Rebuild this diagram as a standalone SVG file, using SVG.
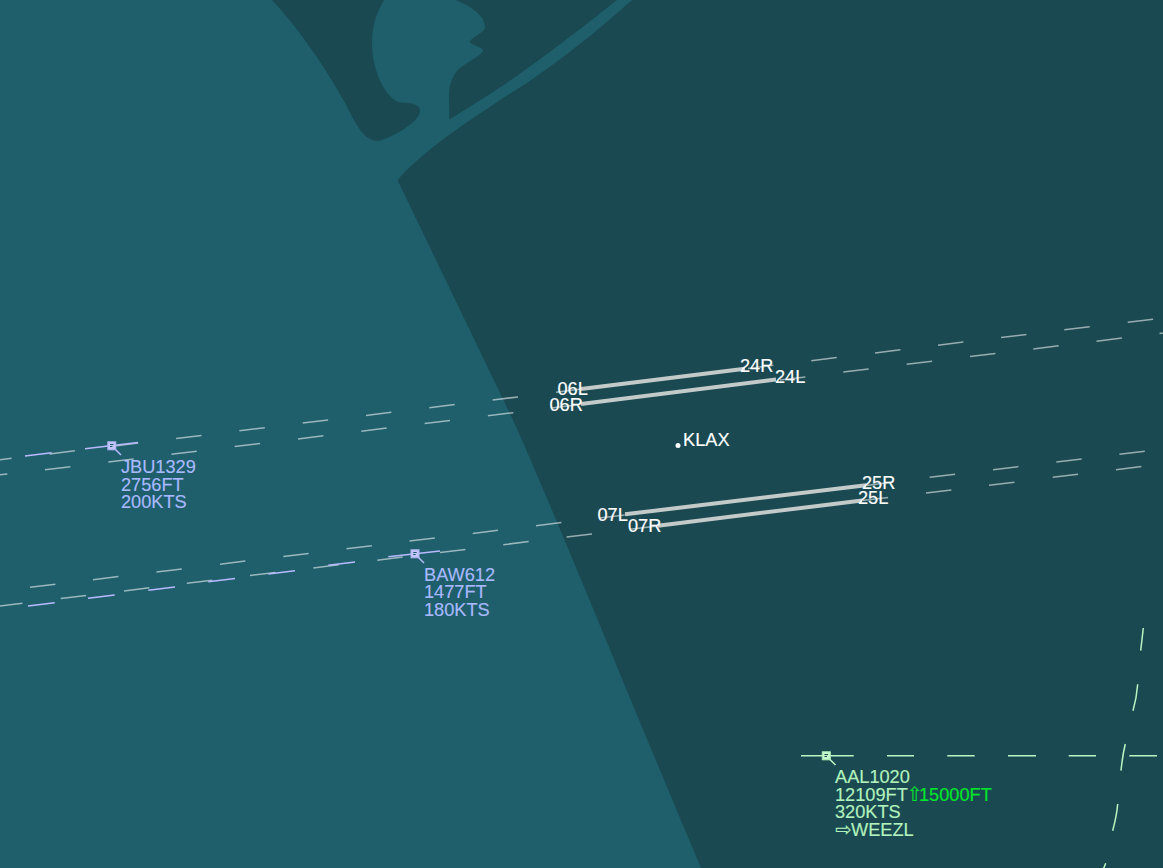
<svg xmlns="http://www.w3.org/2000/svg" width="1163" height="868" viewBox="0 0 1163 868">
<style>
text{font-family:"Liberation Sans",Arial,"DejaVu Sans",sans-serif;font-size:18.200px;stroke-width:.15px}
.rw{stroke:#c3caca;stroke-width:4;fill:none}
.ext{stroke:#fff;stroke-opacity:.55;stroke-width:1.5;fill:none}
.rl{fill:#fff;stroke:#fff}
.v{stroke:#b9b9ff;stroke-width:1.5;fill:none}
.g{stroke:#b9f5c0;stroke-width:1.5;fill:none}
.vt{fill:#a9b9ff;stroke:#a9b9ff}
.gt{fill:#b2f2bc;stroke:#b2f2bc}
.gc{fill:#00e62a;stroke:#00e62a}
.ar{font-family:"DejaVu Sans",sans-serif;font-size:19.500px}
.mk{stroke-width:1;fill:none}
</style>
<rect id="water" width="1163" height="868" fill="#1a4951"/>
<path id="land" fill="#1e5f6b" d="M0,0L272,0C300,30 327,70 345,103C355,122 363,141 378,141C390,139 420,122 420,111C420,103 408,103 400,102.500C385,98 372,70 372,43C372,25 377,12 384,0L455,0C470,5 485,16 485,27C485,33 470,38 470,42C470,45 483,47 483,50C483,55 470,60 460,68C452,75 449,85 449,97L449.300,119.500C466,109 483,99 500,87.300C527,70 590,22 616.700,0L632.300,0C600,28 555,67 500,100C487,109 473,118 460,127C440,141 415,160 397.500,180L513,420C560,525 630,700 701,868L0,868Z"/>
<g id="connectors">
<path id="ext-a" class="ext" d="M-13.800,461.400l25.400,-3.100M49.500,453.900l25.400,-3.100M112.800,446.200l25.400,-3.100M176.100,438.500l25.400,-3.100M239.400,430.800l25.400,-3.100M302.700,423.100l25.400,-3.100M366,415.400l25.400,-3.100M429.300,407.700l25.400,-3.100M492.600,400l25.400,-3.100M556,392.200l25,-3.100M748,368.400l25.400,-3.100M811.300,360.700l25.400,-3.100M875,352.900l25.400,-3.100M938,345.200l25.400,-3.100M1001,337.500l25.400,-3.100M1064.300,329.800l25.400,-3.100M1127.700,322.300l25.400,-3.100"/>
<path id="ext-b" class="ext" d="M-18,477l25.400,-3.100M45,469.800l25.400,-3.100M108.300,462l25.400,-3.100M171.400,454.300l25.400,-3.100M234.700,446.600l25.400,-3.100M298,438.900l25.400,-3.100M361.300,431.200l25.400,-3.100M424.600,423.500l25.400,-3.100M487.900,415.800l25.400,-3.100M551.200,408l25.400,-3.100M780,380l25.400,-3.100M843.300,372.100l25.400,-3.100M906.700,364.300l25.400,-3.100M970,356.600l25.400,-3.100M1033.300,348.900l25.400,-3.100M1096.500,341.200l25.400,-3.100M1159.500,333.500l25.400,-3.100"/>
<path id="ext-c" class="ext" d="M30,587.300l25.400,-3.100M93,579.700l25.400,-3.100M156.400,572l25.400,-3.100M220,564.200l25.400,-3.100M283.300,556.500l25.400,-3.100M346.500,548.800l25.400,-3.100M409.500,541.100l25.400,-3.100M472.700,533.400l25.400,-3.100M536,525.700l25.400,-3.100M599.300,518l25.400,-3.100M866.400,485.400l25.400,-3.100M929.700,477.300l25.400,-3.100M993,469.700l25.400,-3.100M1056.300,462l25.400,-3.100M1119.400,454.300l25.400,-3.100"/>
<path id="ext-d" class="ext" d="M-3,606.300l25.400,-3.100M60.700,598.600l25.400,-3.100M124,590.900l25.400,-3.100M186.800,583.300l25.400,-3.100M250,575.600l25.400,-3.100M313.300,567.900l25.400,-3.100M377.300,560.200l25.400,-3.100M440,552.500l25.400,-3.100M503.300,544.700l25.400,-3.100M566.600,537l25.400,-3.100M629.900,529.300l25.400,-3.100M862.700,500.600l25.400,-3.100M926,493l25.400,-3.100M989,485.300l25.400,-3.100M1052.700,477.300l25.400,-3.100M1116,469.700l25.400,-3.100"/>
<path id="jbu-route" class="v" d="M25,456l26.700,-3.300M85,448.800L138,442.500"/>
<path id="baw-route" class="v" d="M28,606l26.700,-3.300M88,598.300l26.700,-3.300M148.300,590.300l26.700,-3.300M208.300,581.800l26.700,-3.300M268.300,574l26.700,-3.300M328.300,565.300l26.700,-3.300M388.300,556.800L440,551"/>
<path id="aal-route" class="g" d="M801,755.700H853.700M887,755.700h27M947.300,755.700h27.400M1008,755.700h28M1068.700,755.700h27.300M1129.300,755.700H1157M1143.300,628l-2.600,22.700M1137.700,684.300C1137,693 1135.500,702 1133,710.700M1125.300,744C1123.300,752 1122,761 1121,770.700M1117.700,804C1117,813 1115,822 1112.700,830.700M1105.700,863.300L1103,870"/>
</g>
<g id="runways">
<path class="rw" d="M581,389.100L745,368.700"/>
<path class="rw" d="M581,404L776,379.500"/>
<path class="rw" d="M625,514.300L866,485.300"/>
<path class="rw" d="M658,525.700L862,500.500"/>
</g>
<g id="rwy-labels">
<text class="rl" x="740" y="372">24R</text>
<text class="rl" x="775" y="383">24L</text>
<text class="rl" x="557.500" y="395">06L</text>
<text class="rl" x="549.500" y="411">06R</text>
<text class="rl" x="862" y="489">25R</text>
<text class="rl" x="858" y="504">25L</text>
<text class="rl" x="597.500" y="521">07L</text>
<text class="rl" x="628" y="532">07R</text>
</g>
<g id="KLAX"><circle cx="678" cy="445.500" r="2.500" fill="#fff"/><text class="rl" x="683" y="446">KLAX</text></g>
<g id="JBU1329">
<rect x="107.800" y="441.800" width="8" height="8" fill="#c4c4ff" stroke="#b0b6f4"/>
<path class="mk" stroke="#1e5f6b" d="M110,444.500h3.500M110,446.500h2.500"/>
<path class="v" d="M115.500,449.500L121,455"/>
<text class="vt" x="121" y="473">JBU1329</text><text class="vt" x="121" y="491">2756FT</text><text class="vt" x="121" y="508">200KTS</text>
</g>
<g id="BAW612">
<rect x="411" y="549.800" width="8" height="8" fill="#c4c4ff" stroke="#b0b6f4"/>
<path class="mk" stroke="#1e5f6b" d="M413.200,552.500h3.500M413.200,554.500h2.500"/>
<path class="v" d="M418.500,557.500L424,563"/>
<text class="vt" x="424" y="581">BAW612</text><text class="vt" x="424" y="598">1477FT</text><text class="vt" x="424" y="616">180KTS</text>
</g>
<g id="AAL1020">
<rect x="822.300" y="751.800" width="8" height="8" fill="#c4f8cc" stroke="#aeeeb8"/>
<path class="mk" stroke="#1a4951" d="M824.500,754.500h3.500M824.500,756.500h2.500"/>
<path class="g" d="M830,759.500L835.500,765"/>
<text class="gt" x="835" y="783">AAL1020</text>
<text x="835" y="801"><tspan class="gc ar" x="906.500">⇧</tspan><tspan class="gt" x="835">12109FT</tspan><tspan class="gc" x="919">15000FT</tspan></text>
<text class="gt" x="835" y="818">320KTS</text>
<text x="835" y="835.500"><tspan class="gt ar">⇨</tspan><tspan class="gt" x="851">WEEZL</tspan></text>
</g>
</svg>
